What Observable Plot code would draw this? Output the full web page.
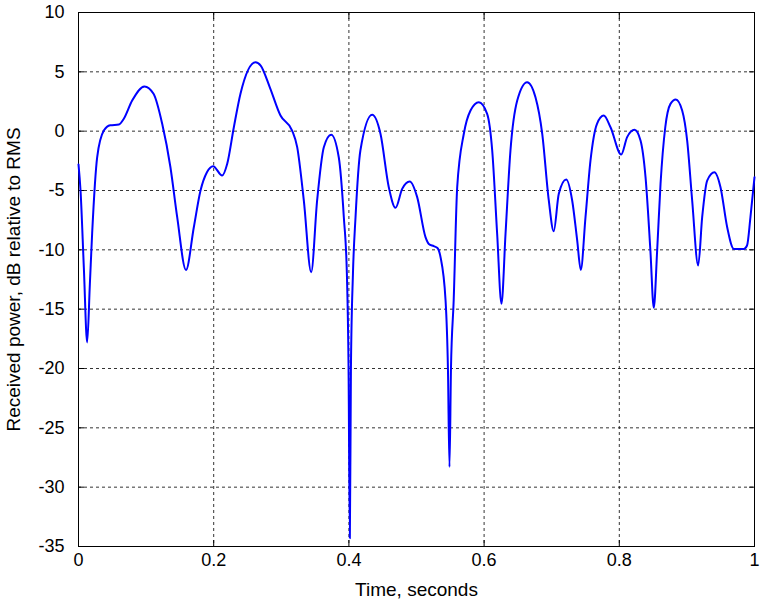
<!DOCTYPE html>
<html>
<head>
<meta charset="utf-8">
<script src="https://cdn.jsdelivr.net/npm/d3@7"></script>
<script src="https://cdn.jsdelivr.net/npm/@observablehq/plot@0.6"></script>
<style>
body { margin: 0; background: #fff; }
</style>
</head>
<body>
<div id="chart"></div>
<script>
const time = [0, 0.003, 0.0079, 0.0128, 0.0168, 0.0202, 0.0276, 0.0375, 0.047, 0.0597, 0.067, 0.0794, 0.0976, 0.111, 0.1238, 0.136, 0.146, 0.159, 0.1706, 0.1805, 0.190, 0.1992, 0.2125, 0.22, 0.2298, 0.2396, 0.2618, 0.2695, 0.283, 0.2988, 0.316, 0.3235, 0.3333, 0.3442, 0.353, 0.3629, 0.3738, 0.385, 0.3925, 0.397, 0.3995, 0.4014, 0.403, 0.406, 0.4098, 0.417, 0.4344, 0.4467, 0.459, 0.469, 0.4788, 0.490, 0.501, 0.5133, 0.5182, 0.5256, 0.531, 0.5355, 0.543, 0.5465, 0.5488, 0.551, 0.555, 0.5602, 0.570, 0.5799, 0.5922, 0.6045, 0.612, 0.6193, 0.6257, 0.6317, 0.639, 0.649, 0.6637, 0.676, 0.686, 0.6957, 0.703, 0.7105, 0.7214, 0.7303, 0.7377, 0.743, 0.75, 0.7574, 0.767, 0.777, 0.787, 0.8028, 0.8116, 0.8225, 0.8314, 0.8388, 0.846, 0.851, 0.856, 0.861, 0.868, 0.8757, 0.8836, 0.893, 0.9004, 0.9078, 0.9167, 0.9226, 0.930, 0.9408, 0.9497, 0.9596, 0.9694, 0.9842, 0.989, 0.994, 1.0];
const power = [-2.8, -5.0, -11.5, -17.8, -12.9, -8.6, -2.2, 0.05, 0.5, 0.56, 1.04, 2.58, 3.77, 3.15, 0.62, -3.04, -7.25, -11.7, -8.1, -5.0, -3.46, -2.95, -3.74, -2.75, 0.33, 3.15, 5.81, 5.53, 3.7, 1.32, 0.05, -1.35, -5.84, -11.88, -5.84, -1.35, -0.3, -2.2, -7.25, -12, -20, -34.3, -20, -12, -7.25, -1.63, 1.38, -0.22, -4.72, -6.46, -4.86, -4.24, -5.56, -8.93, -9.5, -9.69, -9.85, -10.6, -14.27, -20, -28.3, -20, -14.27, -4.72, -0.22, 1.74, 2.44, 1.46, -1.63, -8.65, -14.55, -8.65, -1.63, 2.58, 4.13, 2.86, -0.22, -5.84, -8.43, -5.28, -4.07, -5.84, -9.2, -11.69, -7.25, -2.47, 0.62, 1.32, 0.33, -1.97, -0.5, 0.12, -0.79, -3.88, -10.06, -14.89, -10.06, -4.44, 0.33, 2.3, 2.67, 1.74, -0.79, -5.84, -11.32, -7.25, -4.16, -3.46, -4.72, -8.1, -9.92, -9.92, -9.64, -7.25, -3.88];
const xTicks = [0, 0.2, 0.4, 0.6, 0.8, 1];
const yTicks = [-35, -30, -25, -20, -15, -10, -5, 0, 5, 10];
const xGrid = [0.2, 0.4, 0.6, 0.8];
const yGrid = [-30, -25, -20, -15, -10, -5, 0, 5];

const data = time.map((t, i) => ({t, p: power[i]}));
const fmt = d => String(d);

const chart = Plot.plot({
  width: 761,
  height: 600,
  marginLeft: 78,
  marginRight: 7,
  marginTop: 12,
  marginBottom: 54,
  style: {fontFamily: "'Liberation Sans', Arial, sans-serif", fontSize: "18px", color: "#000", background: "#fff"},
  x: {domain: [0, 1]},
  y: {domain: [-35, 10]},
  marks: [
    Plot.ruleX(xGrid, {stroke: "#000", strokeWidth: 1, strokeDasharray: "3,3", strokeOpacity: 0.8}),
    Plot.ruleY(yGrid, {stroke: "#000", strokeWidth: 1, strokeDasharray: "3,3", strokeOpacity: 0.8}),
    Plot.axisX({ticks: xTicks, tickFormat: () => "", tickSize: -6, anchor: "bottom", label: null}),
    Plot.axisX({ticks: xTicks, tickFormat: () => "", tickSize: -6, anchor: "top", label: null}),
    Plot.axisY({ticks: yTicks, tickFormat: () => "", tickSize: -6, anchor: "left", label: null}),
    Plot.axisY({ticks: yTicks, tickFormat: () => "", tickSize: -6, anchor: "right", label: null}),
    Plot.axisX({ticks: xTicks, tickFormat: fmt, tickSize: 0, tickPadding: 7, anchor: "bottom", fontSize: 18,
      label: "Time, seconds", labelAnchor: "center", labelArrow: "none", labelOffset: 49}),
    Plot.axisY({ticks: yTicks, tickFormat: fmt, tickSize: 0, tickPadding: 14, anchor: "left", fontSize: 18,
      label: "Received power, dB relative to RMS", labelAnchor: "center", labelArrow: "none", labelOffset: 72}),
    Plot.frame({stroke: "#000", strokeWidth: 1}),
    Plot.line(data, {x: "t", y: "p", stroke: "#0000ff", strokeWidth: 2, curve: "monotone-x"})
  ]
});
d3.select(chart).selectAll('g[aria-label="x-axis label"] text, g[aria-label="y-axis label"] text')
  .style("font-size", "19px");
document.getElementById("chart").appendChild(chart);
</script>
</body>
</html>
